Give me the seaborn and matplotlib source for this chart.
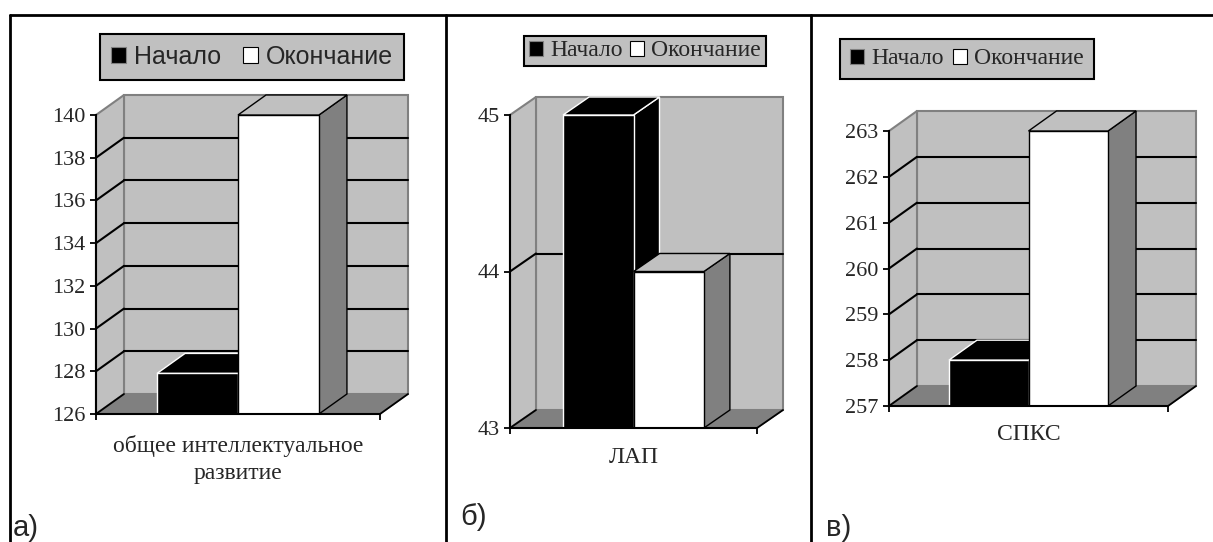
import matplotlib
matplotlib.use("Agg")
import matplotlib.pyplot as plt
import pandas as pd
import seaborn as sns
from matplotlib.patches import Polygon, Rectangle, Patch
from matplotlib.lines import Line2D
from matplotlib.colors import to_rgb

# ---- data ----------------------------------------------------------------
series = ["Начало", "Окончание"]
palette = ["#000000", "#ffffff"]

cat_a = ["общее интеллектуальное\nразвитие"]
vals_a = [127.9, 140.0]
ticks_a = [126, 128, 130, 132, 134, 136, 138, 140]

cat_b = ["ЛАП"]
vals_b = [45.0, 44.0]
ticks_b = [43, 44, 45]

cat_c = ["СПКС"]
vals_c = [258.0, 263.0]
ticks_c = [257, 258, 259, 260, 261, 262, 263]

panel_letters = ["а)", "б)", "в)"]

# ---- style ---------------------------------------------------------------
sns.set_theme(style="white")
plt.rcParams["font.family"] = ["Liberation Serif", "DejaVu Serif"]

W, H, DPI = 1213, 542, 100
LIGHT = "#c0c0c0"
DARK = "#808080"

fig = plt.figure(figsize=(W / DPI, H / DPI), dpi=DPI)
fig.patch.set_facecolor("white")


def px_box(left, right, top, bottom):
    return [left / W, 1 - bottom / H, (right - left) / W, (bottom - top) / H]


def draw_3d_panel(box, cats, vals, ticks, depth_px, legend_xy, legend_font,
                  legend_size, legend_pad, col_space, tick_size, cat_size,
                  cat_pad):
    left, right, top, bottom = box
    ax = fig.add_axes(px_box(left, right, top, bottom))
    df = pd.DataFrame({"cat": cats * len(series), "series": series, "value": vals})
    sns.barplot(data=df, x="cat", y="value", hue="series", hue_order=series,
                palette=palette, width=0.57, gap=0, legend=False, ax=ax,
                saturation=1)
    bars = sorted([p for p in ax.patches if isinstance(p, Rectangle)],
                  key=lambda p: p.get_x())

    ymin, ymax = ticks[0], ticks[-1]
    ax.set_xlim(-0.5, 0.5)
    ax.set_ylim(ymin, ymax)
    ax.set_facecolor("none")
    ax.set_xlabel("")
    ax.set_ylabel("")

    w_px, h_px = right - left, bottom - top
    dx = depth_px[0] / w_px
    dy = depth_px[1] / h_px * (ymax - ymin)
    x0, x1 = -0.5, 0.5

    kw = dict(clip_on=False)
    # walls and floor
    ax.add_patch(Rectangle((x0 + dx, ymin + dy), 1.0, ymax - ymin, fc=LIGHT,
                           ec=DARK, lw=1.5, zorder=0.5, **kw))
    ax.add_patch(Polygon([(x0, ymin), (x0 + dx, ymin + dy), (x0 + dx, ymax + dy),
                          (x0, ymax)], closed=True, fc=LIGHT, ec=DARK, lw=1.5,
                         zorder=0.6, **kw))
    ax.add_patch(Polygon([(x0, ymin), (x1, ymin), (x1 + dx, ymin + dy),
                          (x0 + dx, ymin + dy)], closed=True, fc=DARK, ec=DARK,
                         lw=1.0, zorder=0.7, **kw))
    # floor side edges
    for xe in (x0, x1):
        ax.add_line(Line2D([xe, xe + dx], [ymin, ymin + dy], color="black",
                           lw=1.3, zorder=0.8, **kw))
    # gridlines on the back and side walls
    for t in ticks[1:-1]:
        ax.add_line(Line2D([x0 + dx, x1 + dx], [t + dy, t + dy], color="black",
                           lw=1.5, zorder=0.9, **kw))
        ax.add_line(Line2D([x0, x0 + dx], [t, t + dy], color="black",
                           lw=1.5, zorder=0.9, **kw))

    # extrude each bar: side face, top face, then front face
    for i, p in enumerate(bars):
        bx, bw = p.get_x(), p.get_width()
        h = p.get_y() + p.get_height()
        dark = sum(to_rgb(p.get_facecolor())) < 1.5
        edge = "white" if dark else "black"
        side_c = "black" if dark else DARK
        top_c = "black" if dark else LIGHT
        z = 3 + 3 * i
        ax.add_patch(Polygon([(bx + bw, ymin), (bx + bw, h), (bx + bw + dx, h + dy),
                              (bx + bw + dx, ymin + dy)], closed=True, fc=side_c,
                             ec=edge, lw=1.0, zorder=z, **kw))
        ax.add_patch(Polygon([(bx, h), (bx + bw, h), (bx + bw + dx, h + dy),
                              (bx + dx, h + dy)], closed=True, fc=top_c, ec=edge,
                             lw=1.0, zorder=z + 1, **kw))
        p.set_edgecolor(edge)
        p.set_linewidth(1.0)
        p.set_zorder(z + 2)

    # axes lines and ticks
    for s in ("top", "right"):
        ax.spines[s].set_visible(False)
    for s in ("left", "bottom"):
        ax.spines[s].set_color("black")
        ax.spines[s].set_linewidth(1.5)
        ax.spines[s].set_zorder(20)
    ax.set_yticks(ticks)
    ax.set_yticklabels([str(t) for t in ticks])
    ax.tick_params(axis="y", direction="out", length=4.5, width=1.3,
                   color="black", pad=3, labelsize=tick_size, left=True)
    ax.set_xticks([-0.5, 0.5], minor=True)
    ax.tick_params(axis="x", which="minor", direction="out", length=4.5,
                   width=1.3, color="black", bottom=True)
    ax.tick_params(axis="x", which="major", length=0, pad=cat_pad,
                   labelsize=cat_size)
    for lab in ax.get_xticklabels():
        lab.set_linespacing(1.4)

    handles = [Patch(facecolor=c, edgecolor=("#808080" if i == 0 else "black"),
                     lw=0.8) for i, c in enumerate(palette)]
    leg = fig.legend(handles, series, loc="center",
                     bbox_to_anchor=(legend_xy[0] / W, 1 - legend_xy[1] / H),
                     ncol=2, frameon=True, fancybox=False, facecolor=LIGHT,
                     edgecolor="black", framealpha=1, handlelength=0.6,
                     handleheight=0.6, handletextpad=0.3,
                     columnspacing=col_space, borderpad=legend_pad,
                     borderaxespad=0,
                     prop={"family": legend_font, "size": legend_size})
    leg.get_frame().set_linewidth(1.5)
    return ax


draw_3d_panel((96, 380, 115, 414), cat_a, vals_a, ticks_a, (28, 20),
              (252, 57), "Liberation Sans", 18, 0.45, 0.9, 16, 17, 15)
draw_3d_panel((510, 757, 115, 428), cat_b, vals_b, ticks_b, (26, 18),
              (645, 51), "Liberation Serif", 17, 0.2, 0.3, 16, 17, 14)
draw_3d_panel((889, 1168, 131, 406), cat_c, vals_c, ticks_c, (28, 20),
              (967, 59), "Liberation Serif", 17, 0.4, 0.4, 16, 17, 13)

# table frame around the three panels
for xs, ys in [((10, W), (15, 15)), ((10, 10), (15, H)),
               ((446, 446), (15, H)), ((811, 811), (15, H))]:
    fig.add_artist(Line2D([x / W for x in xs], [1 - y / H for y in ys],
                          color="black", lw=2.0, transform=fig.transFigure))

for letter, x, y in zip(panel_letters, (13, 460, 826), (536, 525, 536)):
    fig.text(x / W, 1 - y / H, letter, family="Liberation Sans", fontsize=21,
             va="baseline", ha="left")

fig.savefig("out.png", dpi=DPI)
